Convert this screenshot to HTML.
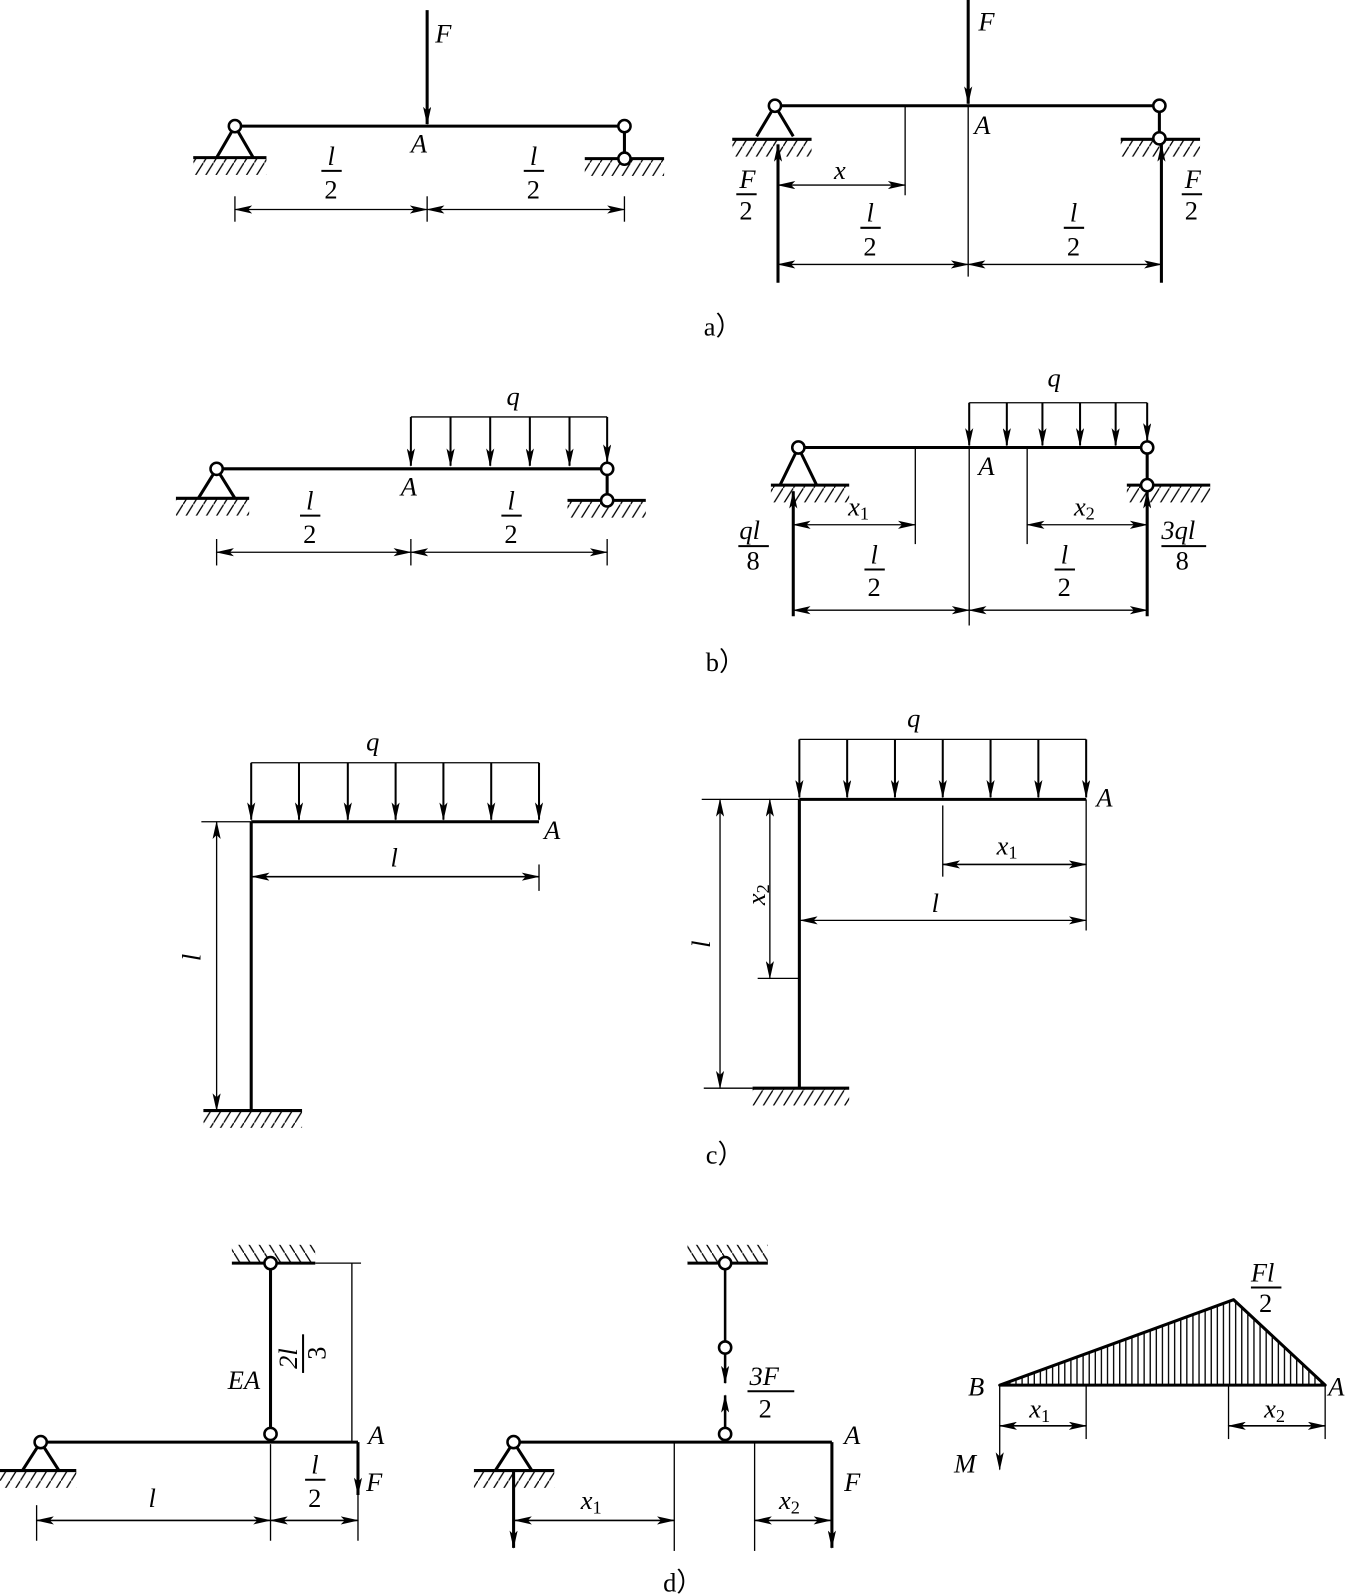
<!DOCTYPE html>
<html><head><meta charset="utf-8"><style>
html,body{margin:0;padding:0;background:#fff;}
svg{display:block;}
text{font-family:"Liberation Serif",serif;font-size:26px;fill:#000;}
.i{font-style:italic;}
</style></head><body>
<svg width="1349" height="1596" viewBox="0 0 1349 1596" xmlns="http://www.w3.org/2000/svg">
<defs>
<marker id="ar" markerWidth="18" markerHeight="8" refX="17" refY="4" orient="auto-start-reverse" markerUnits="userSpaceOnUse"><path d="M0,0 L18,4 L0,8 L4,4 z" fill="#000"/></marker>
<pattern id="h1" patternUnits="userSpaceOnUse" width="10" height="16"><line x1="0" y1="16" x2="10" y2="0" stroke="#000" stroke-width="1.3"/></pattern>
<pattern id="h2" patternUnits="userSpaceOnUse" width="10" height="16"><line x1="0" y1="0" x2="10" y2="16" stroke="#000" stroke-width="1.3"/></pattern>
<pattern id="hv" patternUnits="userSpaceOnUse" width="6" height="10"><line x1="3" y1="0" x2="3" y2="10" stroke="#000" stroke-width="1.3"/></pattern>
</defs>
<g transform="scale(1.017)" stroke="#000" fill="none" stroke-width="1.3">

<!-- ===== a) left ===== -->
<line x1="231" y1="124" x2="614" y2="124" stroke-width="3"/>
<path d="M231,124 L213,155 M231,124 L249,155" stroke-width="3"/>
<line x1="190" y1="155" x2="262" y2="155" stroke-width="3"/>
<rect x="190" y="156" width="72" height="16" fill="url(#h1)" stroke="none"/>
<line x1="614" y1="124" x2="614" y2="156" stroke-width="3"/>
<line x1="575" y1="156" x2="653" y2="156" stroke-width="3"/>
<rect x="575" y="157" width="78" height="16" fill="url(#h1)" stroke="none"/>
<circle cx="231" cy="124" r="6" fill="#fff" stroke-width="2.5"/>
<circle cx="614" cy="124" r="6" fill="#fff" stroke-width="2.5"/>
<circle cx="614" cy="156" r="6" fill="#fff" stroke-width="2.5"/>
<line x1="420" y1="10" x2="420" y2="122" stroke-width="3" marker-end="url(#ar)"/>
<line x1="231" y1="193" x2="231" y2="218"/><line x1="420" y1="193" x2="420" y2="218"/><line x1="614" y1="193" x2="614" y2="218"/>
<line x1="231" y1="206" x2="420" y2="206" marker-start="url(#ar)" marker-end="url(#ar)"/>
<line x1="420" y1="206" x2="614" y2="206" marker-start="url(#ar)" marker-end="url(#ar)"/>
<line x1="316" y1="168" x2="336" y2="168" stroke-width="2"/>
<line x1="515" y1="168" x2="535" y2="168" stroke-width="2"/>

<!-- ===== a) right ===== -->
<line x1="762" y1="104" x2="1140" y2="104" stroke-width="3"/>
<path d="M762,104 L744,134 M762,104 L780,134" stroke-width="3"/>
<line x1="720" y1="137" x2="798" y2="137" stroke-width="3"/>
<rect x="720" y="138" width="78" height="16" fill="url(#h1)" stroke="none"/>
<line x1="1140" y1="104" x2="1140" y2="136" stroke-width="3"/>
<line x1="1102" y1="137" x2="1180" y2="137" stroke-width="3"/>
<rect x="1102" y="138" width="78" height="16" fill="url(#h1)" stroke="none"/>
<circle cx="762" cy="104" r="6" fill="#fff" stroke-width="2.5"/>
<circle cx="1140" cy="104" r="6" fill="#fff" stroke-width="2.5"/>
<circle cx="1140" cy="136" r="6" fill="#fff" stroke-width="2.5"/>
<line x1="952" y1="0" x2="952" y2="102" stroke-width="3" marker-end="url(#ar)"/>
<line x1="890" y1="104" x2="890" y2="192"/>
<line x1="952" y1="104" x2="952" y2="272"/>
<line x1="765" y1="278" x2="765" y2="142" stroke-width="3" marker-end="url(#ar)"/>
<line x1="1142" y1="278" x2="1142" y2="142" stroke-width="3" marker-end="url(#ar)"/>
<line x1="765" y1="182" x2="890" y2="182" marker-start="url(#ar)" marker-end="url(#ar)"/>
<line x1="765" y1="260" x2="952" y2="260" marker-start="url(#ar)" marker-end="url(#ar)"/>
<line x1="952" y1="260" x2="1142" y2="260" marker-start="url(#ar)" marker-end="url(#ar)"/>
<line x1="846" y1="224" x2="866" y2="224" stroke-width="2"/>
<line x1="1046" y1="224" x2="1066" y2="224" stroke-width="2"/>
<line x1="724" y1="191" x2="744" y2="191" stroke-width="2"/>
<line x1="1162" y1="191" x2="1182" y2="191" stroke-width="2"/>

<!-- ===== b) left ===== -->
<line x1="213" y1="461" x2="597" y2="461" stroke-width="3"/>
<path d="M213,461 L195,490 M213,461 L231,490" stroke-width="3"/>
<line x1="173" y1="490" x2="245" y2="490" stroke-width="3"/>
<rect x="173" y="491" width="72" height="16" fill="url(#h1)" stroke="none"/>
<line x1="597" y1="461" x2="597" y2="492" stroke-width="3"/>
<line x1="558" y1="492" x2="635" y2="492" stroke-width="3"/>
<rect x="558" y="493" width="77" height="16" fill="url(#h1)" stroke="none"/>
<circle cx="213" cy="461" r="6" fill="#fff" stroke-width="2.5"/>
<circle cx="597" cy="461" r="6" fill="#fff" stroke-width="2.5"/>
<circle cx="597" cy="492" r="6" fill="#fff" stroke-width="2.5"/>
<line x1="404" y1="410" x2="597" y2="410"/>
<g stroke-width="2"><line x1="404" y1="410" x2="404" y2="458" marker-end="url(#ar)"/><line x1="443" y1="410" x2="443" y2="458" marker-end="url(#ar)"/><line x1="482" y1="410" x2="482" y2="458" marker-end="url(#ar)"/><line x1="521" y1="410" x2="521" y2="458" marker-end="url(#ar)"/><line x1="560" y1="410" x2="560" y2="458" marker-end="url(#ar)"/><line x1="597" y1="410" x2="597" y2="454" marker-end="url(#ar)"/></g>
<line x1="213" y1="530" x2="213" y2="556"/><line x1="404" y1="530" x2="404" y2="556"/><line x1="597" y1="530" x2="597" y2="556"/>
<line x1="213" y1="543" x2="404" y2="543" marker-start="url(#ar)" marker-end="url(#ar)"/>
<line x1="404" y1="543" x2="597" y2="543" marker-start="url(#ar)" marker-end="url(#ar)"/>
<line x1="295" y1="507" x2="315" y2="507" stroke-width="2"/>
<line x1="493" y1="507" x2="513" y2="507" stroke-width="2"/>

<!-- ===== b) right ===== -->
<line x1="785" y1="440" x2="1128" y2="440" stroke-width="3"/>
<path d="M785,440 L767,477 M785,440 L803,477" stroke-width="3"/>
<line x1="758" y1="477" x2="835" y2="477" stroke-width="3"/>
<rect x="758" y="478" width="77" height="16" fill="url(#h1)" stroke="none"/>
<line x1="1128" y1="440" x2="1128" y2="477" stroke-width="3"/>
<line x1="1108" y1="477" x2="1190" y2="477" stroke-width="3"/>
<rect x="1108" y="478" width="82" height="16" fill="url(#h1)" stroke="none"/>
<circle cx="785" cy="440" r="6" fill="#fff" stroke-width="2.5"/>
<circle cx="1128" cy="440" r="6" fill="#fff" stroke-width="2.5"/>
<circle cx="1128" cy="477" r="6" fill="#fff" stroke-width="2.5"/>
<line x1="953" y1="396" x2="1128" y2="396"/>
<g stroke-width="2"><line x1="953" y1="396" x2="953" y2="438" marker-end="url(#ar)"/><line x1="990" y1="396" x2="990" y2="438" marker-end="url(#ar)"/><line x1="1025" y1="396" x2="1025" y2="438" marker-end="url(#ar)"/><line x1="1062" y1="396" x2="1062" y2="438" marker-end="url(#ar)"/><line x1="1097" y1="396" x2="1097" y2="438" marker-end="url(#ar)"/><line x1="1128" y1="396" x2="1128" y2="433" marker-end="url(#ar)"/></g>
<line x1="900" y1="440" x2="900" y2="535"/>
<line x1="1010" y1="440" x2="1010" y2="535"/>
<line x1="953" y1="440" x2="953" y2="615"/>
<line x1="780" y1="606" x2="780" y2="483" stroke-width="3" marker-end="url(#ar)"/>
<line x1="1128" y1="606" x2="1128" y2="483" stroke-width="3" marker-end="url(#ar)"/>
<line x1="780" y1="516" x2="900" y2="516" marker-start="url(#ar)" marker-end="url(#ar)"/>
<line x1="1010" y1="516" x2="1128" y2="516" marker-start="url(#ar)" marker-end="url(#ar)"/>
<line x1="780" y1="600" x2="953" y2="600" marker-start="url(#ar)" marker-end="url(#ar)"/>
<line x1="953" y1="600" x2="1128" y2="600" marker-start="url(#ar)" marker-end="url(#ar)"/>
<line x1="850" y1="560" x2="870" y2="560" stroke-width="2"/>
<line x1="1037" y1="560" x2="1057" y2="560" stroke-width="2"/>
<line x1="726" y1="537" x2="756" y2="537" stroke-width="2"/>
<line x1="1142" y1="537" x2="1186" y2="537" stroke-width="2"/>

<!-- ===== c) left ===== -->
<line x1="247" y1="808" x2="530" y2="808" stroke-width="3"/>
<line x1="247" y1="808" x2="247" y2="1092" stroke-width="3"/>
<line x1="200" y1="1092" x2="297" y2="1092" stroke-width="3"/>
<rect x="200" y="1093" width="97" height="16" fill="url(#h1)" stroke="none"/>
<line x1="247" y1="750" x2="530" y2="750"/>
<g stroke-width="2"><line x1="247" y1="750" x2="247" y2="806" marker-end="url(#ar)"/><line x1="294" y1="750" x2="294" y2="806" marker-end="url(#ar)"/><line x1="342" y1="750" x2="342" y2="806" marker-end="url(#ar)"/><line x1="389" y1="750" x2="389" y2="806" marker-end="url(#ar)"/><line x1="436" y1="750" x2="436" y2="806" marker-end="url(#ar)"/><line x1="483" y1="750" x2="483" y2="806" marker-end="url(#ar)"/><line x1="530" y1="750" x2="530" y2="806" marker-end="url(#ar)"/></g>
<line x1="530" y1="850" x2="530" y2="876"/>
<line x1="248" y1="862" x2="530" y2="862" stroke-width="1.6" marker-start="url(#ar)" marker-end="url(#ar)"/>
<line x1="198" y1="808" x2="247" y2="808"/>
<line x1="213" y1="808" x2="213" y2="1092" marker-start="url(#ar)" marker-end="url(#ar)"/>

<!-- ===== c) right ===== -->
<line x1="786" y1="786" x2="1068" y2="786" stroke-width="3"/>
<line x1="786" y1="786" x2="786" y2="1070" stroke-width="3"/>
<line x1="740" y1="1070" x2="835" y2="1070" stroke-width="3"/>
<rect x="740" y="1071" width="95" height="16" fill="url(#h1)" stroke="none"/>
<line x1="786" y1="727" x2="1068" y2="727"/>
<g stroke-width="2"><line x1="786" y1="727" x2="786" y2="784" marker-end="url(#ar)"/><line x1="833" y1="727" x2="833" y2="784" marker-end="url(#ar)"/><line x1="880" y1="727" x2="880" y2="784" marker-end="url(#ar)"/><line x1="927" y1="727" x2="927" y2="784" marker-end="url(#ar)"/><line x1="974" y1="727" x2="974" y2="784" marker-end="url(#ar)"/><line x1="1021" y1="727" x2="1021" y2="784" marker-end="url(#ar)"/><line x1="1068" y1="727" x2="1068" y2="784" marker-end="url(#ar)"/></g>
<line x1="927" y1="792" x2="927" y2="862"/>
<line x1="1068" y1="786" x2="1068" y2="915"/>
<line x1="927" y1="850" x2="1068" y2="850" stroke-width="1.6" marker-start="url(#ar)" marker-end="url(#ar)"/>
<line x1="787" y1="905" x2="1068" y2="905" marker-start="url(#ar)" marker-end="url(#ar)"/>
<line x1="690" y1="786" x2="786" y2="786"/>
<line x1="745" y1="962" x2="786" y2="962"/>
<line x1="757" y1="786" x2="757" y2="962" marker-start="url(#ar)" marker-end="url(#ar)"/>
<line x1="708" y1="786" x2="708" y2="1070" marker-start="url(#ar)" marker-end="url(#ar)"/>
<line x1="692" y1="1070" x2="740" y2="1070"/>

<!-- ===== d) left ===== -->
<line x1="40" y1="1418" x2="352" y2="1418" stroke-width="3"/>
<line x1="352" y1="1418" x2="352" y2="1470" stroke-width="3" marker-end="url(#ar)"/>
<path d="M40,1418 L22,1446 M40,1418 L58,1446" stroke-width="3"/>
<line x1="0" y1="1446" x2="75" y2="1446" stroke-width="3"/>
<rect x="0" y="1447" width="75" height="16" fill="url(#h1)" stroke="none"/>
<line x1="266" y1="1242" x2="266" y2="1410" stroke-width="3"/>
<line x1="228" y1="1242" x2="310" y2="1242" stroke-width="3"/>
<rect x="228" y="1224" width="82" height="17" fill="url(#h2)" stroke="none"/>
<circle cx="40" cy="1418" r="6" fill="#fff" stroke-width="2.5"/>
<circle cx="266" cy="1242" r="6" fill="#fff" stroke-width="2.5"/>
<circle cx="266" cy="1410" r="6" fill="#fff" stroke-width="2.5"/>
<line x1="310" y1="1242" x2="355" y2="1242"/>
<line x1="346" y1="1242" x2="346" y2="1418"/>
<line x1="36" y1="1480" x2="36" y2="1515"/><line x1="266" y1="1420" x2="266" y2="1515"/><line x1="352" y1="1470" x2="352" y2="1515"/>
<line x1="36" y1="1495" x2="266" y2="1495" stroke-width="1.6" marker-start="url(#ar)" marker-end="url(#ar)"/>
<line x1="266" y1="1495" x2="352" y2="1495" stroke-width="1.6" marker-start="url(#ar)" marker-end="url(#ar)"/>
<line x1="300" y1="1455" x2="320" y2="1455" stroke-width="2"/>

<!-- ===== d) middle ===== -->
<line x1="505" y1="1418" x2="818" y2="1418" stroke-width="3"/>
<line x1="818" y1="1418" x2="818" y2="1522" stroke-width="3" marker-end="url(#ar)"/>
<path d="M505,1418 L487,1446 M505,1418 L523,1446" stroke-width="3"/>
<line x1="466" y1="1446" x2="545" y2="1446" stroke-width="3"/>
<rect x="466" y="1447" width="79" height="16" fill="url(#h1)" stroke="none"/>
<line x1="505" y1="1446" x2="505" y2="1522" stroke-width="3" marker-end="url(#ar)"/>
<line x1="676" y1="1242" x2="755" y2="1242" stroke-width="3"/>
<rect x="676" y="1224" width="79" height="17" fill="url(#h2)" stroke="none"/>
<line x1="713" y1="1242" x2="713" y2="1360" stroke-width="2.5" marker-end="url(#ar)"/>
<line x1="713" y1="1410" x2="713" y2="1372" stroke-width="2.5" marker-end="url(#ar)"/>
<circle cx="505" cy="1418" r="6" fill="#fff" stroke-width="2.5"/>
<circle cx="713" cy="1242" r="6" fill="#fff" stroke-width="2.5"/>
<circle cx="713" cy="1325" r="6" fill="#fff" stroke-width="2.5"/>
<circle cx="713" cy="1410" r="6" fill="#fff" stroke-width="2.5"/>
<line x1="663" y1="1418" x2="663" y2="1525"/>
<line x1="742" y1="1418" x2="742" y2="1525"/>
<line x1="506" y1="1495" x2="663" y2="1495" stroke-width="1.6" marker-start="url(#ar)" marker-end="url(#ar)"/>
<line x1="742" y1="1495" x2="817" y2="1495" stroke-width="1.6" marker-start="url(#ar)" marker-end="url(#ar)"/>
<line x1="735" y1="1368" x2="781" y2="1368" stroke-width="2"/>

<!-- ===== d) right ===== -->
<polygon points="983,1362 1213,1278 1303,1362" fill="url(#hv)" stroke="#000" stroke-width="3" stroke-linejoin="round"/>
<line x1="983" y1="1362" x2="983" y2="1445" marker-end="url(#ar)"/>
<line x1="1068" y1="1362" x2="1068" y2="1415"/>
<line x1="1208" y1="1362" x2="1208" y2="1415"/>
<line x1="1303" y1="1362" x2="1303" y2="1415"/>
<line x1="983" y1="1402" x2="1068" y2="1402" stroke-width="1.6" marker-start="url(#ar)" marker-end="url(#ar)"/>
<line x1="1208" y1="1402" x2="1303" y2="1402" stroke-width="1.6" marker-start="url(#ar)" marker-end="url(#ar)"/>
<line x1="1230" y1="1266" x2="1260" y2="1266" stroke-width="2"/>
</g>

<g transform="scale(1.017)">
<text x="428" y="42" class="i">F</text>
<text x="404" y="150" class="i">A</text>
<text x="322" y="162" class="i">l</text><text x="319" y="195">2</text>
<text x="521" y="162" class="i">l</text><text x="518" y="195">2</text>
<text x="962" y="30" class="i">F</text>
<text x="958" y="132" class="i">A</text>
<text x="820" y="176" class="i">x</text>
<text x="852" y="218" class="i">l</text><text x="849" y="251">2</text>
<text x="1052" y="218" class="i">l</text><text x="1049" y="251">2</text>
<text x="727" y="185" class="i">F</text><text x="727" y="216">2</text>
<text x="1165" y="185" class="i">F</text><text x="1165" y="216">2</text>
<text x="692" y="330">a）</text>
<text x="498" y="398" class="i">q</text>
<text x="394" y="487" class="i">A</text>
<text x="301" y="501" class="i">l</text><text x="298" y="534">2</text>
<text x="499" y="501" class="i">l</text><text x="496" y="534">2</text>
<text x="1030" y="380" class="i">q</text>
<text x="962" y="467" class="i">A</text>
<text x="834" y="507" class="i">x<tspan dy="4" font-size="18" font-style="normal">1</tspan></text>
<text x="1056" y="507" class="i">x<tspan dy="4" font-size="18" font-style="normal">2</tspan></text>
<text x="856" y="554" class="i">l</text><text x="853" y="586">2</text>
<text x="1043" y="554" class="i">l</text><text x="1040" y="586">2</text>
<text x="727" y="530" class="i">ql</text><text x="734" y="560">8</text>
<text x="1142" y="530" class="i">3ql</text><text x="1156" y="560">8</text>
<text x="694" y="660">b）</text>
<text x="360" y="738" class="i">q</text>
<text x="535" y="825" class="i">A</text>
<text x="384" y="852" class="i">l</text>
<text transform="translate(197,945) rotate(-90)" class="i">l</text>
<text x="892" y="715" class="i">q</text>
<text x="1078" y="793" class="i">A</text>
<text x="980" y="840" class="i">x<tspan dy="4" font-size="18" font-style="normal">1</tspan></text>
<text x="916" y="897" class="i">l</text>
<text transform="translate(752,890) rotate(-90)" class="i">x<tspan dy="4" font-size="18" font-style="normal">2</tspan></text>
<text transform="translate(698,932) rotate(-90)" class="i">l</text>
<text x="694" y="1144">c）</text>
<text x="224" y="1366" class="i">EA</text>
<g transform="translate(292,1330) rotate(-90)">
<text x="-16" y="0" class="i">2l</text>
<line x1="-20" y1="6" x2="18" y2="6" stroke="#000" stroke-width="2"/>
<text x="-7" y="28">3</text>
</g>
<text x="362" y="1420" class="i">A</text>
<text x="360" y="1466" class="i">F</text>
<text x="146" y="1482" class="i">l</text>
<text x="306" y="1449" class="i">l</text><text x="303" y="1482">2</text>
<text x="737" y="1362" class="i">3F</text><text x="746" y="1394">2</text>
<text x="830" y="1420" class="i">A</text>
<text x="830" y="1466" class="i">F</text>
<text x="571" y="1484" class="i">x<tspan dy="4" font-size="18" font-style="normal">1</tspan></text>
<text x="766" y="1484" class="i">x<tspan dy="4" font-size="18" font-style="normal">2</tspan></text>
<text x="652" y="1565">d）</text>
<text x="1230" y="1260" class="i">Fl</text><text x="1238" y="1290">2</text>
<text x="952" y="1372" class="i">B</text>
<text x="1306" y="1372" class="i">A</text>
<text x="1012" y="1394" class="i">x<tspan dy="4" font-size="18" font-style="normal">1</tspan></text>
<text x="1243" y="1394" class="i">x<tspan dy="4" font-size="18" font-style="normal">2</tspan></text>
<text x="938" y="1448" class="i">M</text>
</g>
</svg>
</body></html>
